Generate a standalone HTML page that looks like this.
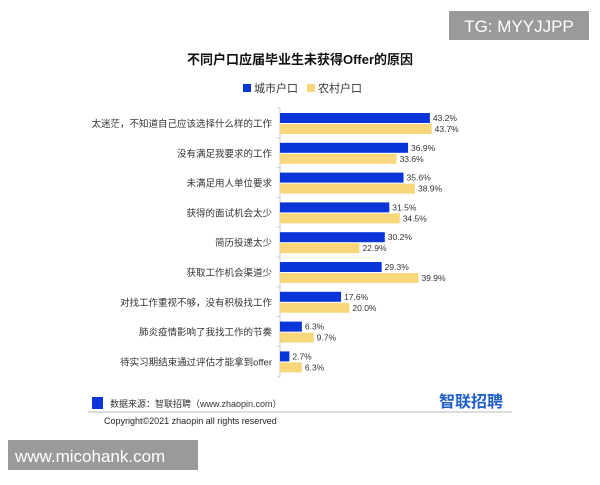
<!DOCTYPE html>
<html><head><meta charset="utf-8"><style>
body{margin:0;background:#fff;}
svg text{font-family:"Liberation Sans","Noto Sans CJK SC",sans-serif;}
</style></head><body>
<svg width="600" height="480" viewBox="0 0 600 480">
<rect width="600" height="480" fill="#fff"/>
<rect x="449" y="11" width="140" height="29" fill="#9a9a9a"/>
<text x="519" y="32" font-size="17" fill="#fff" text-anchor="middle">TG: MYYJJPP</text>
<text x="300" y="64" font-size="13" font-weight="bold" text-anchor="middle" fill="#111">不同户口应届毕业生未获得Offer的原因</text>
<rect x="243" y="84" width="8" height="8" fill="#0a35d8"/>
<text x="254" y="92" font-size="11" fill="#333">城市户口</text>
<rect x="307" y="84" width="8" height="8" fill="#f8d77a"/>
<text x="318" y="92" font-size="11" fill="#333">农村户口</text>
<line x1="280" y1="108" x2="280" y2="377" stroke="#ccc"/>
<g id="bars" font-size="8.5" fill="#333"></g>
<rect x="92" y="397" width="11" height="12" fill="#0a35d8"/>
<text x="110" y="407" font-size="9" fill="#333">数据来源：智联招聘（www.zhaopin.com）</text>
<text x="503" y="407" font-size="16" font-weight="bold" fill="#1f5fc8" text-anchor="end">智联招聘</text>
<line x1="88" y1="412" x2="512" y2="412" stroke="#bbb"/>
<text x="104" y="424" font-size="9" fill="#222">Copyright©2021 zhaopin all rights reserved</text>
<rect x="8" y="440" width="190" height="30" fill="#9a9a9a"/>
<text x="15" y="462" font-size="17" fill="#fff">www.micohank.com</text>
</svg>
<script>
var d=[["太迷茫，不知道自己应该选择什么样的工作",43.2,43.7],["没有满足我要求的工作",36.9,33.6],["未满足用人单位要求",35.6,38.9],["获得的面试机会太少",31.5,34.5],["简历投递太少",30.2,22.9],["获取工作机会渠道少",29.3,39.9],["对找工作重视不够，没有积极找工作",17.6,20.0],["肺炎疫情影响了我找工作的节奏",6.3,9.7],["待实习期结束通过评估才能拿到offer",2.7,6.3]];
var g=document.getElementById('bars'),s='',k=3.47;
d.forEach(function(r,i){var y=113+i*29.8;
s+='<rect x="280" y="'+y+'" width="'+r[1]*k+'" height="10" fill="#0a35d8"/>';
s+='<rect x="280" y="'+(y+11)+'" width="'+r[2]*k+'" height="10" fill="#f8d77a"/>';
s+='<text x="'+(283+r[1]*k)+'" y="'+(y+8)+'">'+r[1].toFixed(1)+'%</text>';
s+='<text x="'+(283+r[2]*k)+'" y="'+(y+19)+'">'+r[2].toFixed(1)+'%</text>';
s+='<text x="272" y="'+(y+14)+'" font-size="9.5" text-anchor="end">'+r[0]+'</text>';
s+='<line x1="277" y1="'+(y-5)+'" x2="280" y2="'+(y-5)+'" stroke="#ccc"/>';});
s+='<line x1="277" y1="377" x2="280" y2="377" stroke="#ccc"/>';
g.innerHTML=s;
</script>
</body></html>
